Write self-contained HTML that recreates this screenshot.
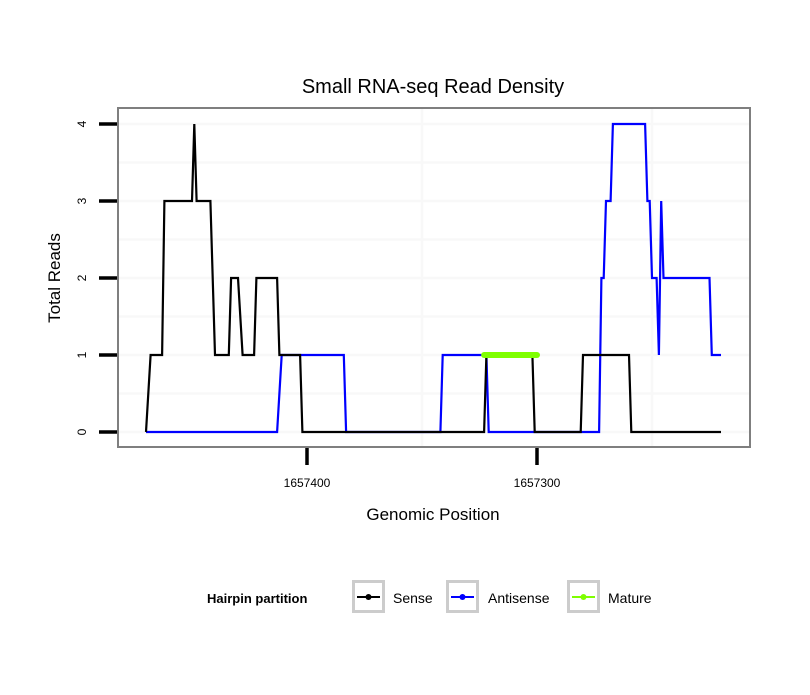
<!DOCTYPE html>
<html><head><meta charset="utf-8"><style>
body{margin:0;background:#fff;}
svg text{font-family:"Liberation Sans",sans-serif;}
</style></head><body>
<svg id="chart" width="810" height="690" xmlns="http://www.w3.org/2000/svg">
<rect width="810" height="690" fill="#fff"/>
<text x="433" y="93" font-size="20" text-anchor="middle">Small RNA-seq Read Density</text>
<g id="grid"></g>
<g id="series"></g>
<rect x="118" y="108" width="632" height="339" fill="none" stroke="#7f7f7f" stroke-width="2"/>
<g id="axes"></g>
<text x="433" y="520" font-size="17" text-anchor="middle">Genomic Position</text>
<text transform="translate(60,278) rotate(-90)" font-size="17" text-anchor="middle">Total Reads</text>
<g>
<text x="207" y="603" font-size="13" font-weight="bold">Hairpin partition</text>
<g>
<rect x="353.5" y="581.5" width="30" height="30" fill="#fff" stroke="#ccc" stroke-width="3"/>
<line x1="357" y1="597" x2="380" y2="597" stroke="#000" stroke-width="2"/><circle cx="368.5" cy="597" r="3" fill="#000"/>
<text x="393" y="603" font-size="14">Sense</text></g>
<g>
<rect x="447.5" y="581.5" width="30" height="30" fill="#fff" stroke="#ccc" stroke-width="3"/>
<line x1="451" y1="597" x2="474" y2="597" stroke="#00f" stroke-width="2"/><circle cx="462.5" cy="597" r="3" fill="#00f"/>
<text x="488" y="603" font-size="14">Antisense</text></g>
<g>
<rect x="568.5" y="581.5" width="30" height="30" fill="#fff" stroke="#ccc" stroke-width="3"/>
<line x1="572" y1="597" x2="595" y2="597" stroke="#7fff00" stroke-width="2"/><circle cx="583.5" cy="597" r="3" fill="#7fff00"/>
<text x="608" y="603" font-size="14">Mature</text></g>
</g>
</svg>
<script>
const senseX=[1657470,1657468,1657463,1657462,1657450,1657449,1657448,1657442,1657440,1657434,1657433,1657430,1657428,1657423,1657422,1657413,1657412,1657403,1657402,1657323,1657322,1657302,1657301,1657281,1657280,1657260,1657259,1657220];
const senseY=[0,1,1,3,3,4,3,3,1,1,2,2,1,1,2,2,1,1,0,0,1,1,0,0,1,1,0,0];
const antiX=[1657470,1657413,1657411,1657384,1657383,1657342,1657341,1657322,1657321,1657273,1657272,1657271,1657270,1657268,1657267,1657253,1657252,1657251,1657250,1657248,1657247,1657246,1657245,1657225,1657224,1657220];
const antiY=[0,0,1,1,0,0,1,1,0,0,2,2,3,3,4,4,3,3,2,2,1,3,2,2,1,1];
const matureX=[1657323,1657300];
const matureY=[1,1];
const xTicks=[1657400,1657300];
const yTicks=[0,1,2,3,4];
const xGrid=[1657350,1657250];
const NS='http://www.w3.org/2000/svg';
function sx(p){return 307+(1657400-p)*2.3;}
function sy(v){return 432-v*77;}
function mk(tag,attrs,parent){const e=document.createElementNS(NS,tag);for(const k in attrs)e.setAttribute(k,attrs[k]);parent.appendChild(e);return e;}
const grid=document.getElementById('grid'),ser=document.getElementById('series'),axes=document.getElementById('axes');
for(let v=-0.5;v<=4.5;v+=0.5){const y=sy(v);if(y<109||y>446)continue;
 const l=mk('line',{x1:119,x2:749,y1:y,y2:y,stroke:'#f8f8f8','stroke-width':2.5},grid);
 
 }
xGrid.forEach(p=>{const x=sx(p);
 const l=mk('line',{x1:x,x2:x,y1:109,y2:446,stroke:'#f8f8f8','stroke-width':2.5},grid);
 
 });
function path(xs,ys,color,w,name,cap){let d='';xs.forEach((p,i)=>{d+=(i?'L':'M')+sx(p).toFixed(1)+','+sy(ys[i]).toFixed(1);});
 const e=mk('path',{d:d,fill:'none',stroke:color,'stroke-width':w,'stroke-linejoin':'miter','stroke-linecap':cap},ser);
 
 }
path(antiX,antiY,'#00f',2.2,'antisense-line','butt');
path(senseX,senseY,'#000',2.2,'sense-line','butt');
path(matureX,matureY,'#7fff00',6,'mature-line','round');
yTicks.forEach(v=>{const y=sy(v);
 const t=mk('line',{x1:99,x2:117,y1:y,y2:y,stroke:'#000','stroke-width':3.5},axes);
 
 
 const tx=mk('text',{transform:`translate(86,${y}) rotate(-90)`,'font-size':12,'text-anchor':'middle'},axes);
 tx.textContent=v;
 
 });
xTicks.forEach(p=>{const x=sx(p);
 const t=mk('line',{x1:x,x2:x,y1:448,y2:465,stroke:'#000','stroke-width':3.5},axes);
 
 
 const tx=mk('text',{x:x,y:487,'font-size':12,'text-anchor':'middle'},axes);
 tx.textContent=p;
 
 });
</script>
</body></html>
